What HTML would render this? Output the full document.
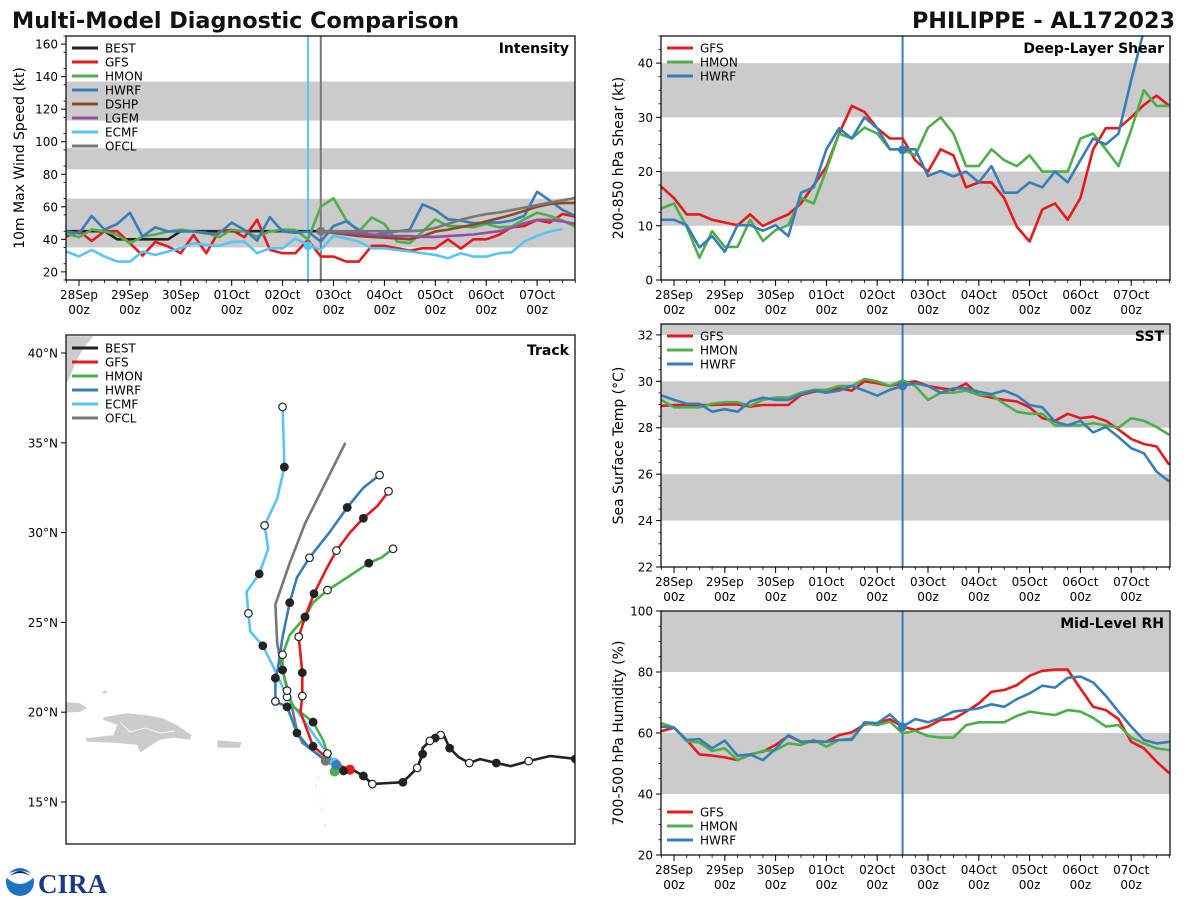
<!DOCTYPE html>
<html><head><meta charset="utf-8">
<style>
html,body{margin:0;padding:0;background:#fff;}
svg{display:block;font-family:"DejaVu Sans","Liberation Sans",sans-serif;}
</style></head>
<body>
<svg id="fig" width="1200" height="900" viewBox="0 0 1200 900" xmlns="http://www.w3.org/2000/svg">
<text x="12" y="28" font-size="22.3" font-weight="bold" fill="#111">Multi-Model Diagnostic Comparison</text>
<text x="1175" y="28" font-size="22.3" font-weight="bold" fill="#111" text-anchor="end">PHILIPPE - AL172023</text>
<g>
<circle cx="20" cy="882" r="14" fill="#1e73be"/>
<path d="M7,878 Q20,890 33,878 L33,874 Q20,868 7,874 Z" fill="#fff"/>
<path d="M10,876 Q20,866 30,876 Q20,870 10,876 Z" fill="#0b2a6b"/>
<text x="38" y="893" font-size="27" font-weight="bold" fill="#1c3a80" font-family="Liberation Serif, serif">CIRA</text>
</g>
</svg>
<script>
// ---------- DATA ----------
const hours = [-6,0,6,12,18,24,30,36,42,48,54,60,66,72,78,84,90,96,102,108,114,120,126,132,138,144,150,156,162,168,174,180,186,192,198,204,210,216,222,228,234];
const dayLabels = ["28Sep","29Sep","30Sep","01Oct","02Oct","03Oct","04Oct","05Oct","06Oct","07Oct"];
const intTicks = [20,40,60,80,100,120,140,160];
const shearTicks = [0,10,20,30,40];
const sstTicks = [22,24,26,28,30,32];
const rhTicks = [20,40,60,80,100];
const latTicks = [15,20,25,30,35,40];

const intBEST = [45,45,45,45,40,40,40,40,40,45,45,45,45,45,45,45,45,45,45,45,45,null,null,null,null,null,null,null,null,null,null,null,null,null,null,null,null,null,null,null,null];
const intGFS = [41.7,45,39,45,45,37.6,30,38.4,35.6,31.5,42.7,31.5,45,45.8,41.3,52,33.5,31.5,31.5,39.6,29.4,29.4,26.3,26.3,36,36,34.5,33.1,34.5,34.5,40,34.3,40,40,42.7,47.4,48.2,51.9,50.3,55.6,54];
const intHMON = [43.6,41.3,46,45,42.7,37.6,41.7,43,44.8,46,44.8,44,41.3,46,44.8,41.7,44.8,46,45.8,40,60,65.2,51.9,44.8,53.4,49.5,38.6,37.6,44.8,52.3,48.2,48.2,47.4,49.5,47.4,47.8,52.3,56.4,54.4,51.5,47.8];
const intHWRF = [45,43.6,54.4,46,49.5,56.4,41.7,47.4,44.8,44.8,44.8,43.6,43.6,50.3,45.8,39.2,53.6,44.8,44,44.8,38.6,48.2,51,45.8,42.1,44,44.8,46,61.5,58.1,52.3,51.5,49.9,50.3,50.3,51.5,54.4,69.3,63.8,58.1,54.4];
const intECMF = [32.5,29.5,33.5,29.4,26.3,26.3,32.5,30.4,32.5,34.5,37.6,36.6,36,38.4,38.6,31.5,34.5,34.5,40.5,36.6,33.5,42.3,40.5,38.6,34.5,34.5,33.5,32.5,31.5,30.4,28.4,31.5,29.4,29.4,31.5,32,38.6,42.1,44.8,46.4,null];
const intDSHP = [null,null,null,null,null,null,null,null,null,null,null,null,null,null,null,null,null,null,null,null,45,44,43,42,41.5,41,40.5,40,42,44.8,46,47.5,49,51,53,55,57.5,60,61.7,62.3,62.4];
const intLGEM = [null,null,null,null,null,null,null,null,null,null,null,null,null,null,null,null,null,null,null,null,45,44.5,44,43.5,43,42.5,42,42,41.5,41.5,42,42.5,43,44,45,47,50,52,52,51,49.5];
const intOFCL = [null,null,null,null,null,null,null,null,null,null,null,null,null,null,null,null,null,null,null,null,45,45,45,45,45,45,45,45,45.5,47,49.5,52,54,55.5,56.5,58,59.5,61,62.5,64,65.5];

const shrGFS = [17.2,15.1,12.1,12.1,11.1,10.6,10.1,12.1,9.95,11.1,12.1,14.1,17.5,20.9,27,32.1,31,28,26.1,26.1,22.1,20,24.1,23,17.1,18,18,15.1,9.8,7.1,13,14.1,11.1,15.1,24.1,28,28,30,32.3,34,32.1];
const shrHMON = [13.2,14.1,9.8,4.1,9,6.1,6.1,11.1,7.2,9.2,10.1,15.1,14.1,20.3,27,26.1,28.1,27,24.1,24.1,23,28.1,30,27,21,21,24.1,22.1,21,23,20,20,20,26.1,27,24.1,21,27.7,35,32.1,32.1];
const shrHWRF = [11.1,11.1,10.1,6,8.1,5.2,10.1,10.1,9.1,10.1,8.1,16.1,17.1,24.1,28,26.1,30,28,24.1,24.1,24.1,19.2,20.1,19.1,20,18,21,16.1,16.1,18,17.1,20,18,22.1,26.1,25,27,36.9,46,46,46];

const sstGFS = [28.94,28.98,28.98,28.98,28.98,29,29,28.91,28.98,28.98,28.98,29.41,29.55,29.63,29.7,29.6,30,29.92,29.8,29.92,30,29.8,29.7,29.63,29.9,29.41,29.3,29.2,29.13,28.88,28.41,28.3,28.6,28.41,28.48,28.3,27.93,27.52,27.3,27.19,26.4];
const sstHMON = [29.2,28.88,28.88,28.88,29.03,29.1,29.1,28.94,29.2,29.3,29.3,29.51,29.63,29.63,29.8,29.8,30.1,30,29.8,30.05,29.8,29.2,29.51,29.51,29.6,29.41,29.41,29.03,28.69,28.6,28.6,28.1,28.1,28.1,28.2,28.1,28,28.41,28.3,28.03,27.69];
const sstHWRF = [29.4,29.2,29.03,29.03,28.69,28.8,28.69,29.13,29.3,29.2,29.2,29.45,29.6,29.51,29.6,29.8,29.6,29.38,29.63,29.8,29.92,29.8,29.51,29.7,29.7,29.55,29.45,29.6,29.38,28.98,28.88,28.26,28.1,28.3,27.8,28.03,27.6,27.12,26.9,26.11,25.68];

const rhGFS = [60.6,61.7,57.7,53,52.6,52,51.1,53,53.9,56.1,59,57.1,57.1,57.1,59.3,60.2,62.8,63.2,64.5,62.1,61,62.1,64.3,64.6,67,69.7,73.5,74.1,75.7,78.8,80.4,80.8,80.8,74.6,68.6,67.5,64.6,57.1,55,50.6,46.8];
const rhHMON = [63.2,61.8,57.3,56.9,54.1,55,51.1,52.8,54.1,54.4,56.6,56.1,57.7,55.5,57.7,57.7,63.2,62.6,63.7,59.9,60.7,59,58.5,58.5,62.6,63.5,63.5,63.5,65.6,67,66.4,65.9,67.5,67,65,62.1,62.6,58.5,56.6,55,54.4];
const rhHWRF = [62.1,61.8,57.7,58,55,57.5,52.6,53,51.1,54.8,59.3,57.1,57.3,57.1,57.7,58,63.5,63.2,66.1,62.1,64.6,63.5,65,67,67.5,68.1,69.4,68.6,71.1,73,75.5,74.9,78.1,78.5,76.6,72.2,67,62.1,57.7,56.6,57.1];

const trkBESTlon = [-47.2,-48.6,-49.8,-50.8,-51.6,-52.5,-53.1,-53.7,-54.2,-54.5,-54.7,-55.0,-55.3,-55.7,-55.7,-56.0,-56.4,-56.8,-58.5,-59.0,-59.6,-60.1,-60.7,-61.1];
const trkBESTlat = [17.4,17.56,17.28,17.0,17.17,17.39,17.17,17.5,18.0,18.67,18.73,18.56,18.4,18.0,17.67,16.9,16.5,16.1,16.0,16.45,16.8,16.73,17.06,17.34];
const trkBESTmk = [1,0,2,0,1,0,2,0,1,0,2,1,2,0,1,2,0,1,2,1,0,1,0,0];
const trkGFSlon = [-59.75,-60.7,-61.8,-62.5,-62.4,-62.4,-62.6,-62.25,-61.75,-61.1,-60.5,-59.75,-59.0,-58.2,-57.6];
const trkGFSlat = [16.8,17.2,18.1,20.0,20.9,22.2,24.2,25.3,26.6,27.9,29.0,30.0,30.8,31.5,32.3];
const trkGFSmk = [0,0,1,0,2,1,2,1,1,0,2,0,1,0,2];
const trkHMONlon = [-60.6,-60.7,-61.0,-61.25,-61.8,-62.5,-62.9,-63.25,-63.5,-63.5,-63.1,-62.25,-61.8,-61.0,-59.9,-58.7,-58.0,-57.35];
const trkHMONlat = [16.7,16.95,17.7,18.45,19.45,20.0,20.3,21.2,22.35,23.2,24.3,25.3,26.1,26.8,27.5,28.3,28.6,29.1];
const trkHMONmk = [0,0,2,0,1,0,0,2,1,2,0,1,0,2,0,1,0,2];
const trkHWRFlon = [-60.5,-61.25,-62.0,-62.7,-63.25,-63.9,-63.9,-63.8,-63.5,-63.1,-62.7,-62.0,-60.9,-59.9,-59.0,-58.1];
const trkHWRFlat = [17.06,17.45,18.0,18.84,20.3,20.6,21.9,22.2,24.2,26.1,27.5,28.6,30.0,31.4,32.5,33.2];
const trkHWRFmk = [0,0,0,1,1,2,1,0,0,1,0,2,0,1,0,2];
const trkECMFlon = [-60.6,-61.0,-61.8,-62.7,-63.25,-64.0,-64.6,-65.3,-65.4,-65.5,-64.8,-64.3,-64.5,-63.8,-63.4,-63.5];
const trkECMFlat = [17.2,17.7,18.8,20.1,20.85,22.5,23.7,24.5,25.5,26.7,27.7,29.1,30.4,31.9,33.65,37.0];
const trkECMFmk = [0,0,0,0,2,0,1,0,2,0,1,0,2,0,1,2];
const trkOFCLlon = [-61.1,-62.4,-62.7,-63.1,-63.6,-63.8,-63.9,-63.1,-62.25,-60.0];
const trkOFCLlat = [17.3,18.3,19.0,20.85,22.7,23.85,26.0,28.3,30.5,35.0];

// ---------- DRAWING ----------
const NS='http://www.w3.org/2000/svg';
const svg=document.getElementById('fig');
function mk(tag,attrs,parent){const e=document.createElementNS(NS,tag);for(const k in attrs)e.setAttribute(k,attrs[k]);(parent||svg).appendChild(e);return e;}
const C={BEST:'#222222',GFS:'#e41a1c',HMON:'#4daf4a',HWRF:'#377eb8',DSHP:'#8c4a24',LGEM:'#984ea3',ECMF:'#56c5f5',OFCL:'#777777'};
const BAND='#cbcbcb';
let clipId=0;

function timePanel(cfg){
  const g=mk('g',{});
  
  
  const {x0,x1,y0,y1,dmin,dmax,d0x,pxDay}=cfg;
  const xT=h=>d0x+h/24*pxDay;
  const yV=v=>y1-(v-dmin)/(dmax-dmin)*(y1-y0);
  const cid='clip'+(clipId++);
  const cp=mk('clipPath',{id:cid},g);mk('rect',{x:x0,y:y0,width:x1-x0,height:y1-y0},cp);
  cfg.bands.forEach(b=>{
    const r=mk('rect',{x:x0,y:yV(Math.min(b[1],dmax)),width:x1-x0,height:yV(b[0])-yV(Math.min(b[1],dmax)),fill:BAND},g);
    
    
  });
  for(let v=dmin;v<=dmax+1e-6;v+=cfg.minor){
    const yy=yV(v);if(yy<y0-0.5)continue;
    mk('line',{x1:x0-2.5,x2:x0,y1:yy,y2:yy,stroke:'#000','stroke-width':0.8},g);
  }
  cfg.ticks.forEach(v=>{
    const yy=yV(v);
    mk('line',{x1:x0-5,x2:x0,y1:yy,y2:yy,stroke:'#000','stroke-width':1},g);
    const t=mk('text',{x:x0-8,y:yy+4.5,'font-size':12,'text-anchor':'end',fill:'#000'},g);t.textContent=v;
    
    
  });
  hours.forEach(h=>{const xx=xT(h);mk('line',{x1:xx,x2:xx,y1:y1,y2:y1+3,stroke:'#000','stroke-width':0.8},g);});
  dayLabels.forEach((d,i)=>{
    const xx=xT(i*24);
    mk('line',{x1:xx,x2:xx,y1:y1,y2:y1+6,stroke:'#000','stroke-width':1},g);
    const t=mk('text',{x:xx,y:y1+19,'font-size':12,'text-anchor':'middle',fill:'#000'},g);t.textContent=d;
    
    
    const t2=mk('text',{x:xx,y:y1+34,'font-size':12,'text-anchor':'middle',fill:'#000'},g);t2.textContent='00z';
    
    
  });
  const yl=mk('text',{x:0,y:0,'font-size':14,'text-anchor':'middle',fill:'#000',transform:`translate(${cfg.ylx},${(y0+y1)/2}) rotate(-90)`},g);
  yl.textContent=cfg.ylabel;
  
  
  const lg=mk('g',{'clip-path':`url(#${cid})`},g);
  (cfg.vlines||[]).forEach(v=>{
    const l=mk('line',{x1:xT(v.h),x2:xT(v.h),y1:y0,y2:y1,stroke:v.c,'stroke-width':2},lg);
    
    
  });
  cfg.series.forEach(s=>{
    let d='';let pen=false;
    s.v.forEach((v,i)=>{if(v===null){pen=false;return;}d+=(pen?'L':'M')+xT(hours[i]).toFixed(1)+','+yV(v).toFixed(1);pen=true;});
    const p=mk('path',{d:d,fill:'none',stroke:C[s.k],'stroke-width':2.6,'stroke-linejoin':'round'},lg);
    
    
  });
  (cfg.vlines||[]).forEach(v=>{
    if(v.dot!==undefined){const c=mk('circle',{cx:xT(v.h),cy:yV(v.dot),r:4.5,fill:v.c},lg);
      
      }
  });
  mk('rect',{x:x0,y:y0,width:x1-x0,height:y1-y0,fill:'none',stroke:'#000','stroke-width':1.2},g);
  const ti=mk('text',{x:x1-6,y:y0+17,'font-size':14,'font-weight':'bold','text-anchor':'end',fill:'#000'},g);ti.textContent=cfg.title;
  
  
  legend(g,x0,cfg.legY,cfg.series.map(s=>s.k));
  return g;
}
function legend(g,x0,ly,keys){
  const lg=mk('g',{},g);
  
  
  keys.forEach((k,i)=>{
    const yy=ly+i*14;
    mk('line',{x1:x0+6,x2:x0+32,y1:yy,y2:yy,stroke:C[k],'stroke-width':3},lg);
    const t=mk('text',{x:x0+39,y:yy+4.5,'font-size':12,fill:'#000'},lg);t.textContent=k;
    
    
  });
}

timePanel({name:'intensity-panel',x0:66,x1:575,y0:36,y1:280,dmin:15,dmax:165,d0x:79,pxDay:50.9,
  bands:[[35,65],[83,96],[113,137]],ticks:intTicks,minor:10,ylx:24,ylabel:'10m Max Wind Speed (kt)',
  title:'Intensity',legY:48,
  vlines:[{h:108,c:C.ECMF,dot:36},{h:114,c:C.OFCL,dot:45}],
  series:[{k:'BEST',v:intBEST},{k:'GFS',v:intGFS},{k:'HMON',v:intHMON},{k:'HWRF',v:intHWRF},{k:'DSHP',v:intDSHP},{k:'LGEM',v:intLGEM},{k:'ECMF',v:intECMF},{k:'OFCL',v:intOFCL}]});
timePanel({name:'shear-panel',x0:661,x1:1170,y0:36,y1:280,dmin:0,dmax:45,d0x:674,pxDay:50.8,
  bands:[[10,20],[30,40]],ticks:shearTicks,minor:2.5,ylx:623,ylabel:'200-850 hPa Shear (kt)',
  title:'Deep-Layer Shear',legY:48,vlines:[{h:108,c:C.HWRF,dot:24}],
  series:[{k:'GFS',v:shrGFS},{k:'HMON',v:shrHMON},{k:'HWRF',v:shrHWRF}]});
timePanel({name:'sst-panel',x0:661,x1:1170,y0:324,y1:567,dmin:22,dmax:32.47,d0x:674,pxDay:50.8,
  bands:[[24,26],[28,30],[32,33]],ticks:sstTicks,minor:0.5,ylx:623,ylabel:'Sea Surface Temp (°C)',
  title:'SST',legY:336,vlines:[{h:108,c:C.HWRF,dot:29.8}],
  series:[{k:'GFS',v:sstGFS},{k:'HMON',v:sstHMON},{k:'HWRF',v:sstHWRF}]});
timePanel({name:'rh-panel',x0:661,x1:1170,y0:611,y1:855,dmin:20,dmax:100,d0x:674,pxDay:50.8,
  bands:[[40,60],[80,100]],ticks:rhTicks,minor:5,ylx:623,ylabel:'700-500 hPa Humidity (%)',
  title:'Mid-Level RH',legY:812,vlines:[{h:108,c:C.HWRF,dot:62}],
  series:[{k:'GFS',v:rhGFS},{k:'HMON',v:rhHMON},{k:'HWRF',v:rhHWRF}]});

// ---------- TRACK MAP ----------
(function(){
  const x0=66,x1=575,y0=335,y1=844;
  const g=mk('g',{});
  
  
  const xL=lon=>85+(lon+74.5)*17.96;
  const yL=lat=>802-(lat-15)*17.96;
  const cp=mk('clipPath',{id:'trkclip'},g);mk('rect',{x:x0,y:y0,width:x1-x0,height:y1-y0},cp);
  const land=mk('g',{'clip-path':'url(#trkclip)',fill:'#cccccc',stroke:'#fff','stroke-width':0.6},g);
  
  
  mk('polygon',{points:'103,717 127,713 147,715 163,718 177,725 192,735 190,740 173,738 160,740 140,753 137,745 113,743 87,742 85,738 113,735 117,725 103,720'},land);
  mk('polyline',{points:'120,722 130,732 145,728 160,733 175,731',fill:'none',stroke:'#fff','stroke-width':0.8},land);
  mk('polygon',{points:'217,740 242,742 240,748 217,748'},land);
  mk('polygon',{points:'66,702 80,703 88,708 80,712 66,713'},land);
  mk('polygon',{points:'100,693 106,690 108,694'},land);
  mk('polygon',{points:'66,336 94,336 84,348 76,362 70,378 66,384'},land);
  [[316,785],[320,800],[322,810],[325,825],[318,778]].forEach(p=>mk('circle',{cx:p[0],cy:p[1],r:1},land));
  latTicks.forEach(v=>{
    const yy=yL(v);
    mk('line',{x1:x0-5,x2:x0,y1:yy,y2:yy,stroke:'#000','stroke-width':1},g);
    const t=mk('text',{x:x0-8,y:yy+4.5,'font-size':12,'text-anchor':'end',fill:'#000'},g);t.textContent=v+'°N';
    
    
  });
  const tg=mk('g',{'clip-path':'url(#trkclip)'},g);
  const tracks=[
    {k:'OFCL',lo:trkOFCLlon,la:trkOFCLlat,m:null},
    {k:'ECMF',lo:trkECMFlon,la:trkECMFlat,m:trkECMFmk},
    {k:'HMON',lo:trkHMONlon,la:trkHMONlat,m:trkHMONmk},
    {k:'HWRF',lo:trkHWRFlon,la:trkHWRFlat,m:trkHWRFmk},
    {k:'GFS',lo:trkGFSlon,la:trkGFSlat,m:trkGFSmk},
    {k:'BEST',lo:trkBESTlon,la:trkBESTlat,m:trkBESTmk}];
  tracks.forEach(tr=>{
    const pts=tr.lo.map((lo,i)=>xL(lo).toFixed(1)+','+yL(tr.la[i]).toFixed(1)).join(' ');
    const p=mk('polyline',{points:pts,fill:'none',stroke:C[tr.k],'stroke-width':2.6,'stroke-linejoin':'round'},tg);
    
    
  });
  tracks.forEach(tr=>{
    if(tr.k!=='BEST'){const c=mk('circle',{cx:xL(tr.lo[0]),cy:yL(tr.la[0]),r:5,fill:C[tr.k]},tg);
      
      }
    if(!tr.m)return;
    tr.m.forEach((m,i)=>{
      if(!m)return;
      const c=mk('circle',{cx:xL(tr.lo[i]),cy:yL(tr.la[i]),r:3.8,fill:m===1?'#222':'#fff',stroke:'#222','stroke-width':1.2},tg);
      
      
    });
  });
  mk('rect',{x:x0,y:y0,width:x1-x0,height:y1-y0,fill:'none',stroke:'#000','stroke-width':1.2},g);
  const ti=mk('text',{x:x1-6,y:y0+20,'font-size':14,'font-weight':'bold','text-anchor':'end',fill:'#000'},g);ti.textContent='Track';
  
  
  legend(g,x0,348,['BEST','GFS','HMON','HWRF','ECMF','OFCL']);
})();
</script>
</body></html>
